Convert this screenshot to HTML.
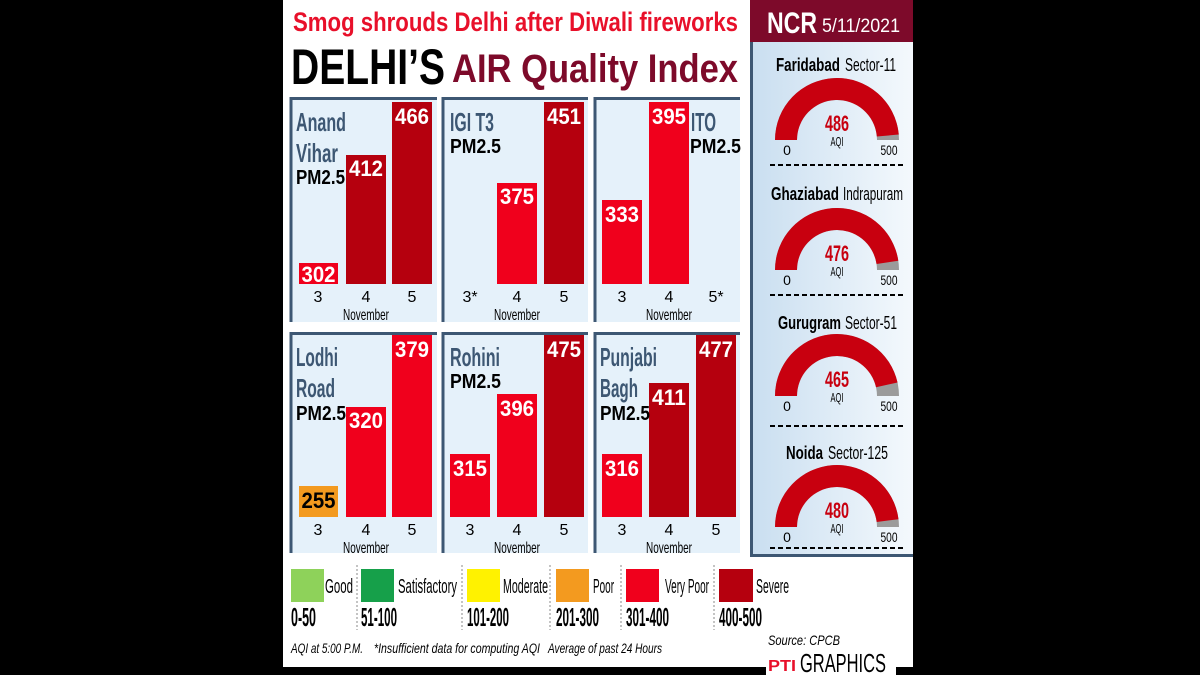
<!DOCTYPE html>
<html><head><meta charset="utf-8"><style>
html,body{margin:0;padding:0;background:#000;}
svg{display:block;}
text{font-family:"Liberation Sans Narrow","Liberation Sans",sans-serif;}
</style></head><body>
<svg width="1200" height="675" viewBox="0 0 1200 675" xmlns="http://www.w3.org/2000/svg">
<defs>
<linearGradient id="rg" x1="0" x2="1" y1="0" y2="0"><stop offset="0" stop-color="#c9def0"/><stop offset="1" stop-color="#f4f9fd"/></linearGradient>
</defs>
<rect x="0" y="0" width="1200" height="675" fill="#000"/>
<rect x="283" y="0" width="631" height="667" fill="#fff"/>

<text x="293" y="31" font-size="27" font-weight="bold" fill="#e8102a" textLength="445" lengthAdjust="spacingAndGlyphs">Smog shrouds Delhi after Diwali fireworks</text>
<text x="291" y="84" font-size="50" font-weight="bold" fill="#000" textLength="154" lengthAdjust="spacingAndGlyphs">DELHI’S</text>
<text x="452" y="82" font-size="40" font-weight="bold" fill="#7d0a2a" textLength="286" lengthAdjust="spacingAndGlyphs">AIR Quality Index</text>

<g fill="#e5f1fa">
<rect x="290" y="97" width="147" height="225"/><rect x="442" y="97" width="146" height="225"/><rect x="594" y="97" width="146" height="225"/>
<rect x="290" y="332" width="147" height="221"/><rect x="442" y="332" width="146" height="221"/><rect x="594" y="332" width="146" height="221"/>
</g>
<g stroke="#3d5773" stroke-width="3" fill="none">
<path d="M291 322V98.5H437"/><path d="M443 322V98.5H588"/><path d="M595 322V98.5H740"/>
<path d="M291 553V333.5H437"/><path d="M443 553V333.5H588"/><path d="M595 553V333.5H740"/>
</g>

<rect x="299" y="263" width="39" height="21" fill="#f0001c"/>
<rect x="346" y="155" width="40" height="129" fill="#b5000e"/>
<rect x="392" y="102" width="40" height="182" fill="#b5000e"/>
<rect x="497" y="183" width="40" height="101" fill="#f0001c"/>
<rect x="544" y="102" width="40" height="182" fill="#b5000e"/>
<rect x="602" y="200" width="40" height="84" fill="#f0001c"/>
<rect x="649" y="102" width="40" height="182" fill="#f0001c"/>
<rect x="299" y="486" width="39" height="31" fill="#f39a1f"/>
<rect x="346" y="407" width="40" height="110" fill="#f0001c"/>
<rect x="392" y="335" width="40" height="182" fill="#f0001c"/>
<rect x="450" y="454" width="40" height="63" fill="#f0001c"/>
<rect x="497" y="394" width="40" height="123" fill="#f0001c"/>
<rect x="544" y="335" width="40" height="182" fill="#b5000e"/>
<rect x="602" y="454" width="40" height="63" fill="#f0001c"/>
<rect x="649" y="383" width="40" height="134" fill="#b5000e"/>
<rect x="696" y="335" width="40" height="182" fill="#b5000e"/>

<g font-size="22" font-weight="bold" fill="#fff" text-anchor="middle">
<text x="318.5" y="282" textLength="34" lengthAdjust="spacingAndGlyphs">302</text>
<text x="366" y="176" textLength="34" lengthAdjust="spacingAndGlyphs">412</text>
<text x="412" y="124" textLength="34" lengthAdjust="spacingAndGlyphs">466</text>
<text x="517" y="204" textLength="34" lengthAdjust="spacingAndGlyphs">375</text>
<text x="564" y="124" textLength="34" lengthAdjust="spacingAndGlyphs">451</text>
<text x="622" y="222" textLength="34" lengthAdjust="spacingAndGlyphs">333</text>
<text x="669" y="124" textLength="34" lengthAdjust="spacingAndGlyphs">395</text>
<text x="318.5" y="508" fill="#000" textLength="34" lengthAdjust="spacingAndGlyphs">255</text>
<text x="366" y="428" textLength="34" lengthAdjust="spacingAndGlyphs">320</text>
<text x="412" y="357" textLength="34" lengthAdjust="spacingAndGlyphs">379</text>
<text x="470" y="476" textLength="34" lengthAdjust="spacingAndGlyphs">315</text>
<text x="517" y="416" textLength="34" lengthAdjust="spacingAndGlyphs">396</text>
<text x="564" y="357" textLength="34" lengthAdjust="spacingAndGlyphs">475</text>
<text x="622" y="476" textLength="34" lengthAdjust="spacingAndGlyphs">316</text>
<text x="669" y="405" textLength="34" lengthAdjust="spacingAndGlyphs">411</text>
<text x="716" y="357" textLength="34" lengthAdjust="spacingAndGlyphs">477</text>
</g>

<g font-size="26" font-weight="bold" fill="#3d5773">
<text x="296" y="131" textLength="50" lengthAdjust="spacingAndGlyphs">Anand</text>
<text x="296" y="162" textLength="42" lengthAdjust="spacingAndGlyphs">Vihar</text>
<text x="450" y="131" textLength="44" lengthAdjust="spacingAndGlyphs">IGI T3</text>
<text x="691" y="131" textLength="25" lengthAdjust="spacingAndGlyphs">ITO</text>
<text x="296" y="366" textLength="42" lengthAdjust="spacingAndGlyphs">Lodhi</text>
<text x="296" y="397" textLength="39" lengthAdjust="spacingAndGlyphs">Road</text>
<text x="450" y="366" textLength="50" lengthAdjust="spacingAndGlyphs">Rohini</text>
<text x="600" y="366" textLength="57" lengthAdjust="spacingAndGlyphs">Punjabi</text>
<text x="600" y="397" textLength="38" lengthAdjust="spacingAndGlyphs">Bagh</text>
</g>
<g font-size="20" font-weight="bold" fill="#000">
<text x="296" y="184" textLength="49" lengthAdjust="spacingAndGlyphs">PM2.5</text>
<text x="450" y="153" textLength="51" lengthAdjust="spacingAndGlyphs">PM2.5</text>
<text x="690" y="153" textLength="51" lengthAdjust="spacingAndGlyphs">PM2.5</text>
<text x="296" y="420" textLength="50" lengthAdjust="spacingAndGlyphs">PM2.5</text>
<text x="450" y="388" textLength="51" lengthAdjust="spacingAndGlyphs">PM2.5</text>
<text x="600" y="420" textLength="50" lengthAdjust="spacingAndGlyphs">PM2.5</text>
</g>

<g font-size="16" fill="#000" text-anchor="middle">
<text x="318" y="302">3</text><text x="366" y="302">4</text><text x="412" y="302">5</text>
<text x="470" y="302">3*</text><text x="517" y="302">4</text><text x="564" y="302">5</text>
<text x="622" y="302">3</text><text x="669" y="302">4</text><text x="716" y="302">5*</text>
<text x="318" y="535">3</text><text x="366" y="535">4</text><text x="412" y="535">5</text>
<text x="470" y="535">3</text><text x="517" y="535">4</text><text x="564" y="535">5</text>
<text x="622" y="535">3</text><text x="669" y="535">4</text><text x="716" y="535">5</text>
</g>
<g font-size="16" fill="#000" text-anchor="middle">
<text x="366" y="320" textLength="46" lengthAdjust="spacingAndGlyphs">November</text>
<text x="517" y="320" textLength="46" lengthAdjust="spacingAndGlyphs">November</text>
<text x="669" y="320" textLength="46" lengthAdjust="spacingAndGlyphs">November</text>
<text x="366" y="553" textLength="46" lengthAdjust="spacingAndGlyphs">November</text>
<text x="517" y="553" textLength="46" lengthAdjust="spacingAndGlyphs">November</text>
<text x="669" y="553" textLength="46" lengthAdjust="spacingAndGlyphs">November</text>
</g>

<rect x="750" y="42" width="163" height="515" fill="url(#rg)"/>
<path d="M751.5 42V555.5H913" stroke="#3d5773" stroke-width="3" fill="none"/>
<rect x="750" y="0" width="163" height="42" fill="#7d0a2a"/>
<text x="767" y="33" font-size="30" font-weight="bold" fill="#fff" textLength="50" lengthAdjust="spacingAndGlyphs">NCR</text>
<text x="822" y="32" font-size="19" fill="#fff" textLength="78" lengthAdjust="spacingAndGlyphs">5/11/2021</text>
<rect x="913" y="0" width="7" height="675" fill="#000"/>

<g font-size="18" fill="#000">
<text x="776" y="71" font-weight="bold" textLength="64" lengthAdjust="spacingAndGlyphs">Faridabad</text>
<text x="845" y="71" textLength="51" lengthAdjust="spacingAndGlyphs">Sector-11</text>
<text x="771" y="200" font-weight="bold" textLength="68" lengthAdjust="spacingAndGlyphs">Ghaziabad</text>
<text x="843" y="200" textLength="60" lengthAdjust="spacingAndGlyphs">Indrapuram</text>
<text x="778" y="329" font-weight="bold" textLength="63" lengthAdjust="spacingAndGlyphs">Gurugram</text>
<text x="845" y="329" textLength="52" lengthAdjust="spacingAndGlyphs">Sector-51</text>
<text x="786" y="459" font-weight="bold" textLength="37" lengthAdjust="spacingAndGlyphs">Noida</text>
<text x="828" y="459" textLength="60" lengthAdjust="spacingAndGlyphs">Sector-125</text>
</g>
<g stroke="#000" stroke-width="2" stroke-dasharray="5,3">
<line x1="770" y1="165" x2="905" y2="165"/><line x1="770" y1="295" x2="905" y2="295"/>
<line x1="770" y1="426" x2="905" y2="426"/><line x1="770" y1="548" x2="905" y2="548"/>
</g>

<g transform="translate(837,140)">
<path d="M-62 0A62 62 0 0 1 62 0L40 0A40 40 0 0 0 -40 0Z" fill="#9b9b9b"/>
<path d="M-62 0A62 62 0 0 1 61.76 -5.44L39.85 -3.51A40 40 0 0 0 -40 0Z" fill="#c8000f"/>
<text x="0" y="-9" font-size="22" font-weight="bold" fill="#c8000f" text-anchor="middle" textLength="24" lengthAdjust="spacingAndGlyphs">486</text>
<text x="0" y="6" font-size="13" text-anchor="middle" textLength="13" lengthAdjust="spacingAndGlyphs">AQI</text>
<text x="-50" y="15" font-size="14" text-anchor="middle">0</text><text x="52" y="15" font-size="14" text-anchor="middle" textLength="17" lengthAdjust="spacingAndGlyphs">500</text>
</g>
<g transform="translate(837,270)">
<path d="M-62 0A62 62 0 0 1 62 0L40 0A40 40 0 0 0 -40 0Z" fill="#9b9b9b"/>
<path d="M-62 0A62 62 0 0 1 61.3 -9.31L39.55 -6.01A40 40 0 0 0 -40 0Z" fill="#c8000f"/>
<text x="0" y="-9" font-size="22" font-weight="bold" fill="#c8000f" text-anchor="middle" textLength="24" lengthAdjust="spacingAndGlyphs">476</text>
<text x="0" y="6" font-size="13" text-anchor="middle" textLength="13" lengthAdjust="spacingAndGlyphs">AQI</text>
<text x="-50" y="15" font-size="14" text-anchor="middle">0</text><text x="52" y="15" font-size="14" text-anchor="middle" textLength="17" lengthAdjust="spacingAndGlyphs">500</text>
</g>
<g transform="translate(837,396)">
<path d="M-62 0A62 62 0 0 1 62 0L40 0A40 40 0 0 0 -40 0Z" fill="#9b9b9b"/>
<path d="M-62 0A62 62 0 0 1 60.5 -13.52L39.04 -8.72A40 40 0 0 0 -40 0Z" fill="#c8000f"/>
<text x="0" y="-9" font-size="22" font-weight="bold" fill="#c8000f" text-anchor="middle" textLength="24" lengthAdjust="spacingAndGlyphs">465</text>
<text x="0" y="6" font-size="13" text-anchor="middle" textLength="13" lengthAdjust="spacingAndGlyphs">AQI</text>
<text x="-50" y="15" font-size="14" text-anchor="middle">0</text><text x="52" y="15" font-size="14" text-anchor="middle" textLength="17" lengthAdjust="spacingAndGlyphs">500</text>
</g>
<g transform="translate(837,527)">
<path d="M-62 0A62 62 0 0 1 62 0L40 0A40 40 0 0 0 -40 0Z" fill="#9b9b9b"/>
<path d="M-62 0A62 62 0 0 1 61.51 -7.77L39.68 -5.01A40 40 0 0 0 -40 0Z" fill="#c8000f"/>
<text x="0" y="-9" font-size="22" font-weight="bold" fill="#c8000f" text-anchor="middle" textLength="24" lengthAdjust="spacingAndGlyphs">480</text>
<text x="0" y="6" font-size="13" text-anchor="middle" textLength="13" lengthAdjust="spacingAndGlyphs">AQI</text>
<text x="-50" y="15" font-size="14" text-anchor="middle">0</text><text x="52" y="15" font-size="14" text-anchor="middle" textLength="17" lengthAdjust="spacingAndGlyphs">500</text>
</g>

<rect x="291" y="569" width="33" height="33" fill="#8ed25a"/>
<rect x="361" y="569" width="33" height="33" fill="#16a04a"/>
<rect x="467" y="569" width="33" height="33" fill="#fff200"/>
<rect x="556" y="569" width="33" height="33" fill="#f39a1f"/>
<rect x="626" y="569" width="33" height="33" fill="#f0001c"/>
<rect x="719" y="569" width="34" height="33" fill="#b5000e"/>
<g stroke="#888" stroke-width="1" stroke-dasharray="2,2">
<line x1="357" y1="565" x2="357" y2="630"/><line x1="462" y1="565" x2="462" y2="630"/>
<line x1="550" y1="565" x2="550" y2="630"/><line x1="621" y1="565" x2="621" y2="630"/>
<line x1="714" y1="565" x2="714" y2="630"/>
</g>
<g font-size="20" fill="#000">
<text x="325" y="593" textLength="28" lengthAdjust="spacingAndGlyphs">Good</text>
<text x="398" y="593" textLength="59" lengthAdjust="spacingAndGlyphs">Satisfactory</text>
<text x="503" y="593" textLength="45" lengthAdjust="spacingAndGlyphs">Moderate</text>
<text x="593" y="593" textLength="21" lengthAdjust="spacingAndGlyphs">Poor</text>
<text x="665" y="593" textLength="44" lengthAdjust="spacingAndGlyphs">Very Poor</text>
<text x="756" y="593" textLength="33" lengthAdjust="spacingAndGlyphs">Severe</text>
</g>
<g font-size="26" font-weight="bold" fill="#000">
<text x="291" y="626" textLength="25" lengthAdjust="spacingAndGlyphs">0-50</text>
<text x="361" y="626" textLength="36" lengthAdjust="spacingAndGlyphs">51-100</text>
<text x="467" y="626" textLength="42" lengthAdjust="spacingAndGlyphs">101-200</text>
<text x="556" y="626" textLength="43" lengthAdjust="spacingAndGlyphs">201-300</text>
<text x="626" y="626" textLength="43" lengthAdjust="spacingAndGlyphs">301-400</text>
<text x="719" y="626" textLength="43" lengthAdjust="spacingAndGlyphs">400-500</text>
</g>
<g font-size="14" font-style="italic" fill="#000">
<text x="291" y="653" textLength="72" lengthAdjust="spacingAndGlyphs">AQI at 5:00 P.M.</text>
<text x="374" y="653" textLength="166" lengthAdjust="spacingAndGlyphs">*Insufficient data for computing AQI</text>
<text x="548" y="653" textLength="114" lengthAdjust="spacingAndGlyphs">Average of past 24 Hours</text>
<text x="768" y="645" textLength="72" lengthAdjust="spacingAndGlyphs">Source: CPCB</text>
</g>
<rect x="283" y="667" width="630" height="8" fill="#000"/>
<rect x="766" y="650" width="130" height="25" fill="#fff"/>
<text x="768" y="671" font-size="16" font-weight="bold" fill="#e8102a" textLength="28" lengthAdjust="spacingAndGlyphs">PTI</text>
<text x="800" y="672" font-size="26" fill="#000" textLength="86" lengthAdjust="spacingAndGlyphs">GRAPHICS</text>
</svg>
</body></html>
